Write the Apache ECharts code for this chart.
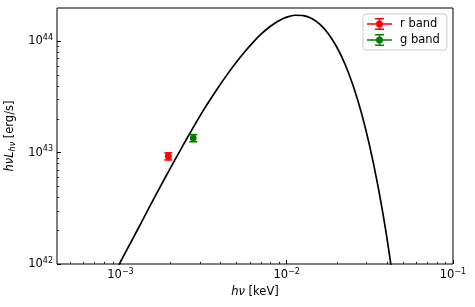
<!DOCTYPE html>
<html><head><meta charset="utf-8">
<script src="https://cdn.jsdelivr.net/npm/echarts@6/dist/echarts.min.js"></script>
<style>html,body{margin:0;padding:0;background:#fff}#c{width:475px;height:307px}</style>
</head><body><div id="c"></div>
<script>
// Black model curve (h nu, h nu L_h nu)
const curveX = [8.91e-4, 1.0e-3, 1.122e-3, 1.259e-3, 1.413e-3, 1.585e-3, 1.778e-3, 1.995e-3, 2.239e-3, 2.512e-3, 2.818e-3, 3.162e-3, 3.548e-3, 3.981e-3, 4.467e-3, 5.012e-3, 5.623e-3, 6.31e-3, 7.079e-3, 7.943e-3, 8.913e-3, 1.0e-2, 1.122e-2, 1.259e-2, 1.413e-2, 1.585e-2, 1.778e-2, 1.995e-2, 2.239e-2, 2.512e-2, 2.818e-2, 3.162e-2, 3.548e-2, 3.981e-2, 4.467e-2];
const curveY = [7.57e41, 1.047e42, 1.449e42, 2.0e42, 2.78e42, 3.85e42, 5.30e42, 7.28e42, 9.93e42, 1.349e43, 1.816e43, 2.427e43, 3.17e43, 4.11e43, 5.25e43, 6.61e43, 8.18e43, 9.93e43, 1.180e44, 1.365e44, 1.531e44, 1.656e44, 1.722e44, 1.710e44, 1.607e44, 1.422e44, 1.175e44, 8.97e43, 6.28e43, 3.98e43, 2.26e43, 1.13e43, 4.90e42, 1.82e42, 5.64e41];
// Photometric points
const rX = [1.94e-3], rY = [9.3e42], rErr = [0.68e42];
const gX = [2.74e-3], gY = [1.355e43], gErr = [0.1e43];
// Axes
const xRange = [4.15e-4, 1e-1];
const yRange = [1e42, 2e44];
const xMajorTicks = [1e-3, 1e-2, 1e-1];
const yMajorTicks = [1e42, 1e43, 1e44];
const seriesNames = ['r band', 'g band'];
const seriesColors = ['#ff0000', '#008000'];

function minors(lo, hi) {
  const out = [];
  for (let e = Math.floor(Math.log10(lo)); e <= Math.ceil(Math.log10(hi)); e++) {
    for (let m = 2; m <= 9; m++) {
      const v = m * Math.pow(10, e);
      if (v > lo * 1.0001 && v < hi * 0.9999) out.push(v);
    }
  }
  return out;
}
const xMinorTicks = minors(xRange[0], xRange[1]);
const yMinorTicks = minors(yRange[0], yRange[1]);

const FONT = 'DejaVu Sans';
const FS = 11.5, FSS = 8;
function powLabel(v) {
  const e = Math.round(Math.log10(v));
  return '{b|10}{s|' + (e < 0 ? '\u2212' + (-e) : e) + '}';
}
const labelRich = {
  b: { fontSize: FS, fontFamily: FONT, color: '#000', lineHeight: 15 },
  s: { fontSize: FSS, fontFamily: FONT, color: '#000', verticalAlign: 'top', lineHeight: 9 }
};

function errItem(color) {
  return function (params, api) {
    const x = api.value(0), y = api.value(1), e = api.value(2);
    const c = api.coord([x, y]);
    const lo = api.coord([x, y - e]);
    const hi = api.coord([x, y + e]);
    const cap = 4;
    const st = { stroke: color, lineWidth: 1.6 };
    return {
      type: 'group', children: [
        { type: 'line', shape: { x1: c[0], y1: lo[1], x2: c[0], y2: hi[1] }, style: st },
        { type: 'line', shape: { x1: c[0] - cap, y1: lo[1], x2: c[0] + cap, y2: lo[1] }, style: st },
        { type: 'line', shape: { x1: c[0] - cap, y1: hi[1], x2: c[0] + cap, y2: hi[1] }, style: st },
        { type: 'circle', shape: { cx: c[0], cy: c[1], r: 3.4 }, style: { fill: color } }
      ]
    };
  };
}

const icon = 'path://M0 5.2L25 5.2L25 6.8L0 6.8Z M11.7 0L13.3 0L13.3 12L11.7 12Z M8 0L17 0L17 1.6L8 1.6Z M8 10.4L17 10.4L17 12L8 12Z M16 6A3.5 3.5 0 1 1 9 6A3.5 3.5 0 1 1 16 6Z';

const chart = echarts.init(document.getElementById('c'), null, { renderer: 'canvas' });
chart.setOption({
  animation: false,
  grid: { left: 57, right: 22, top: 8, bottom: 43, show: true, borderColor: '#000', borderWidth: 1, backgroundColor: 'transparent', containLabel: false, outerBoundsMode: 'none' },
  legend: {
    data: seriesNames.map((n, i) => ({ name: n, icon: icon, itemStyle: { color: seriesColors[i] } })),
    orient: 'vertical', left: 363, top: 14, itemWidth: 25, itemHeight: 12, itemGap: 4,
    padding: [4, 7, 4, 4], backgroundColor: 'rgba(255,255,255,0.8)', borderColor: '#cccccc', borderWidth: 1, borderRadius: 3,
    textStyle: { fontSize: FS, fontFamily: FONT, color: '#000', padding: [0, 0, 0, 3] },
    selectedMode: false
  },
  xAxis: [{
    type: 'log', logBase: 10, min: xRange[0], max: xRange[1], position: 'bottom',
    axisLine: { show: false }, splitLine: { show: false },
    axisTick: { show: true, inside: true, length: 4, lineStyle: { color: '#000', width: 1 }, customValues: xMajorTicks },
    axisLabel: { customValues: xMajorTicks, margin: 4, formatter: powLabel, rich: labelRich },
    name: '{i|h\u03bd}{n| [keV]}', nameLocation: 'middle', nameGap: 18,
    nameTextStyle: { rich: { i: { fontSize: FS, fontFamily: FONT, fontStyle: 'italic', color: '#000' }, n: { fontSize: FS, fontFamily: FONT, color: '#000' } } }
  }, {
    type: 'log', logBase: 10, min: xRange[0], max: xRange[1], position: 'bottom',
    axisLine: { show: false }, splitLine: { show: false }, axisLabel: { show: false },
    axisTick: { show: true, inside: true, length: 2.2, lineStyle: { color: '#000', width: 0.8 }, customValues: xMinorTicks }
  }],
  yAxis: [{
    type: 'log', logBase: 10, min: yRange[0], max: yRange[1], position: 'left',
    axisLine: { show: false }, splitLine: { show: false },
    axisTick: { show: true, inside: true, length: 4, lineStyle: { color: '#000', width: 1 }, customValues: yMajorTicks },
    axisLabel: { customValues: yMajorTicks, margin: 4, formatter: powLabel, rich: labelRich },
    name: '{i|h\u03bdL}{sub|h\u03bd}{n| [erg/s]}', nameLocation: 'middle', nameGap: 32, nameRotate: 90,
    nameTextStyle: { rich: {
      i: { fontSize: FS, fontFamily: FONT, fontStyle: 'italic', color: '#000', lineHeight: 15 },
      sub: { fontSize: FSS, fontFamily: FONT, fontStyle: 'italic', color: '#000', verticalAlign: 'bottom', lineHeight: 9 },
      n: { fontSize: FS, fontFamily: FONT, color: '#000', lineHeight: 15 } } }
  }, {
    type: 'log', logBase: 10, min: yRange[0], max: yRange[1], position: 'left',
    axisLine: { show: false }, splitLine: { show: false }, axisLabel: { show: false },
    axisTick: { show: true, inside: true, length: 2.2, lineStyle: { color: '#000', width: 0.8 }, customValues: yMinorTicks }
  }],
  series: [{
    type: 'line', name: 'model', xAxisIndex: 0, yAxisIndex: 0,
    data: curveX.map((x, i) => [x, curveY[i]]),
    showSymbol: false, symbol: 'none', smooth: 0.25, clip: true, silent: true, z: 2,
    lineStyle: { color: '#000', width: 1.7 }
  }, {
    type: 'custom', name: seriesNames[0], xAxisIndex: 0, yAxisIndex: 0, z: 3,
    itemStyle: { color: seriesColors[0] },
    data: rX.map((x, i) => [x, rY[i], rErr[i]]), encode: { x: 0, y: 1 },
    renderItem: errItem(seriesColors[0])
  }, {
    type: 'custom', name: seriesNames[1], xAxisIndex: 0, yAxisIndex: 0, z: 3,
    itemStyle: { color: seriesColors[1] },
    data: gX.map((x, i) => [x, gY[i], gErr[i]]), encode: { x: 0, y: 1 },
    renderItem: errItem(seriesColors[1])
  }]
});
</script>
</body></html>
